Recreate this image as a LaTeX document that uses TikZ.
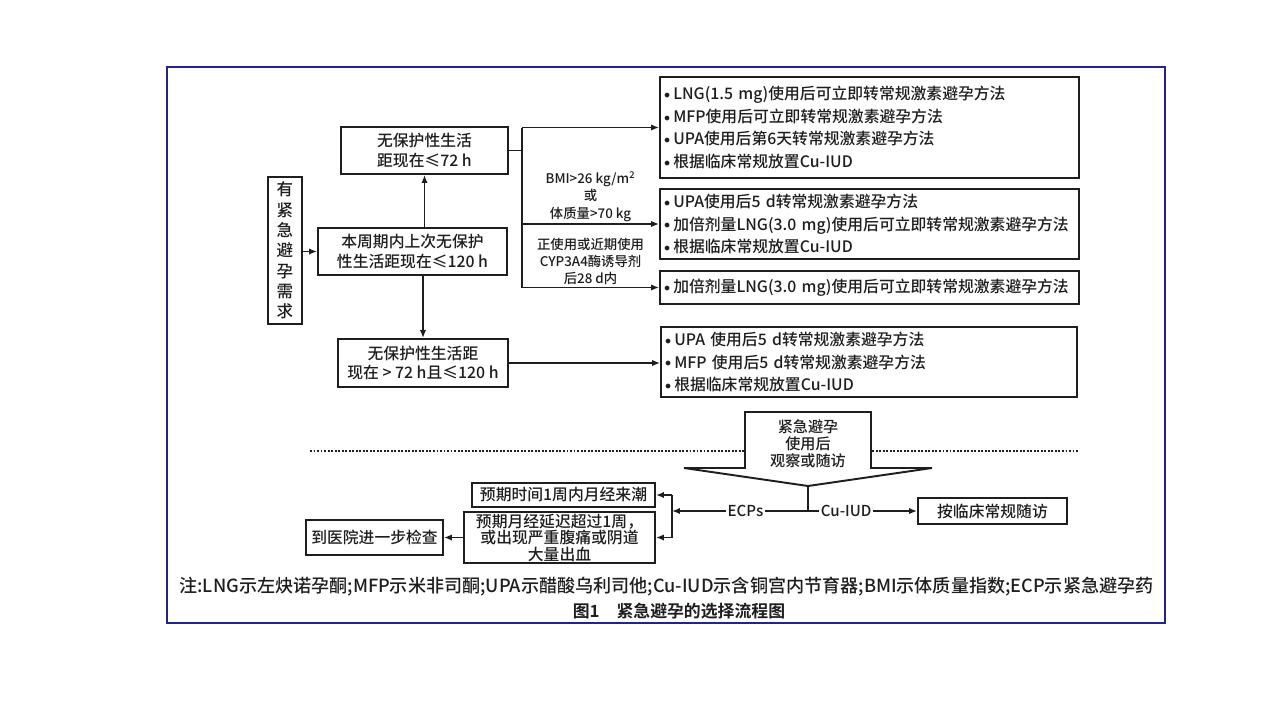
\documentclass[tikz,border=0pt]{standalone}
\usepackage{fontspec}
\setmainfont{Noto Sans CJK SC Medium}[BoldFont={Noto Sans CJK SC Bold}]
\usetikzlibrary{positioning, calc, arrows.meta}
\definecolor{Ink}{HTML}{1E1E1E}
\definecolor{Frame}{HTML}{23238A}
\newcommand{\itm}{\raisebox{0.15ex}{\scalebox{0.75}{$\bullet$}}\hspace{0.2em}}
\tikzset{
    box/.style={rectangle, draw=Ink, line width=1.1pt, text=Ink, align=center, inner sep=0pt, font=\fontsize{9}{11.2}\selectfont},
    listbox/.style={rectangle, draw=Ink, line width=1.1pt, text=Ink, align=left, inner xsep=0.08cm, inner ysep=0pt, font=\fontsize{9}{12.8}\selectfont},
    cond/.style={text=Ink, align=center, inner sep=1pt, font=\fontsize{7.6}{9.8}\selectfont},
    tag/.style={fill=white, text=Ink, inner sep=1pt, font=\fontsize{8.6}{10}\selectfont},
    arrow/.style={-{Latex[length=4.5pt,width=3.6pt]}, line width=1pt, color=Ink},
    link/.style={line width=1pt, color=Ink},
}

\begin{document}
\begin{tikzpicture}[x=0.02cm, y=-0.02cm]
    \useasboundingbox (0,0) rectangle (1280,720);
    % Rahmen
    \draw[Frame, line width=1.2pt] (167,67) rectangle (1165,623);

    % Ausgang und Zeitfenster
    \node[box, minimum width=0.68cm, minimum height=2.94cm, font=\fontsize{9.4}{11.6}\selectfont] (need) at (285,250.5) {有\\紧\\急\\避\\孕\\需\\求};
    \node[box, minimum width=3.78cm, minimum height=0.94cm] (within) at (412.5,251.5) {本周期内上次无保护\\性生活距现在≤120 h};
    \node[box, minimum width=3.34cm, minimum height=0.94cm] (le72) at (424.5,150.5) {无保护性生活\\距现在≤72 h};
    \node[box, minimum width=3.40cm, minimum height=0.96cm] (gt72) at (423,363) {无保护性生活距\\现在 > 72 h且≤120 h};

    % Empfehlungen
    \node[listbox, text width=8.22cm, minimum height=2.02cm] (optA) at (869.5,127.5) {\itm LNG(1.5 mg)使用后可立即转常规激素避孕方法\\\itm MFP使用后可立即转常规激素避孕方法\\\itm UPA使用后第6天转常规激素避孕方法\\\itm 根据临床常规放置Cu-IUD};
    \node[listbox, text width=8.22cm, minimum height=1.40cm] (optB) at (869.5,224) {\itm UPA使用后5 d转常规激素避孕方法\\\itm 加倍剂量LNG(3.0 mg)使用后可立即转常规激素避孕方法\\\itm 根据临床常规放置Cu-IUD};
    \node[listbox, text width=8.22cm, minimum height=0.66cm] (optC) at (869.5,287.5) {\itm 加倍剂量LNG(3.0 mg)使用后可立即转常规激素避孕方法};
    \node[listbox, text width=8.16cm, minimum height=1.40cm] (optD) at (869,362) {\itm UPA 使用后5 d转常规激素避孕方法\\\itm MFP 使用后5 d转常规激素避孕方法\\\itm 根据临床常规放置Cu-IUD};

    % Verbindungen oben
    \draw[arrow] (need.east |- within.west) -- (within.west);
    \draw[arrow] (within.north -| le72.south) -- (le72.south);
    \draw[arrow] (within.south -| gt72.north) -- (gt72.north);
    \coordinate (split) at (522,150.5);
    \draw[link] (le72.east) -- (split);
    \draw[link] (split |- optA.west) -- (split |- optC.west);
    \draw[arrow] (split |- optA.west) -- (optA.west);
    \draw[arrow] (split |- optB.west) -- node[cond, above] {BMI>26 kg/m\textsuperscript{2}\\或\\体质量>70 kg} (optB.west);
    \draw[arrow] (split |- optC.west) -- node[cond, above] {正使用或近期使用\\CYP3A4酶诱导剂\\后28 d内} (optC.west);
    \draw[arrow] (gt72.east) -- (gt72.east -| optD.west);

    % Trennlinie und Pfeil
    \draw[Ink, line width=1.3pt, dash pattern=on 1.1pt off 0.9pt] (310,451) -- (1078,451);
    \draw[Ink, line width=1.1pt, fill=white] (745,412) -- (871,412) -- (871,468) -- (932,468) -- (808,486) -- (684,468) -- (745,468) -- cycle;
    \node[text=Ink, align=center, font=\fontsize{8.6}{9.6}\selectfont] (after) at (808,444) {紧急避孕\\使用后\\观察或随访};
    \coordinate (tip) at (808,486);
    \coordinate (fork) at (808,511);
    \coordinate (ecp) at (672,511);

    % Nachsorge
    \node[box, minimum width=3.66cm, minimum height=0.48cm] (onset) at (563.5,495) {预期时间1周内月经来潮};
    \node[box, minimum width=3.82cm, minimum height=1.02cm, font=\fontsize{9}{9.4}\selectfont] (delay) at (559.5,537.5) {预期月经延迟超过1周，\\或出现严重腹痛或阴道\\大量出血};
    \node[box, minimum width=2.74cm, minimum height=0.70cm] (hosp) at (374.5,537.5) {到医院进一步检查};
    \node[box, minimum width=2.98cm, minimum height=0.52cm] (follow) at (992.5,511) {按临床常规随访};

    \draw[link] (tip) -- (fork);
    \draw[arrow] (fork) -- node[tag, pos=0.46] {ECPs} (ecp);
    \draw[arrow] (fork) -- node[tag, pos=0.35] {Cu-IUD} (follow.west);
    \draw[link] (ecp |- onset.east) -- (ecp |- delay.east);
    \draw[arrow] (ecp |- onset.east) -- (onset.east);
    \draw[arrow] (ecp |- delay.east) -- (delay.east);
    \draw[arrow] (delay.west) -- (hosp.east);

    % Legende
    \node[text=Ink, font=\fontsize{10.3}{12}\selectfont] (note) at (666.5,587) {注:LNG示左炔诺孕酮;MFP示米非司酮;UPA示醋酸乌利司他;Cu-IUD示含铜宫内节育器;BMI示体质量指数;ECP示紧急避孕药};
    \node[text=Ink, font=\bfseries\fontsize{9.6}{11}\selectfont] (caption) at (679,611) {图1\quad 紧急避孕的选择流程图};
\end{tikzpicture}
\end{document}
